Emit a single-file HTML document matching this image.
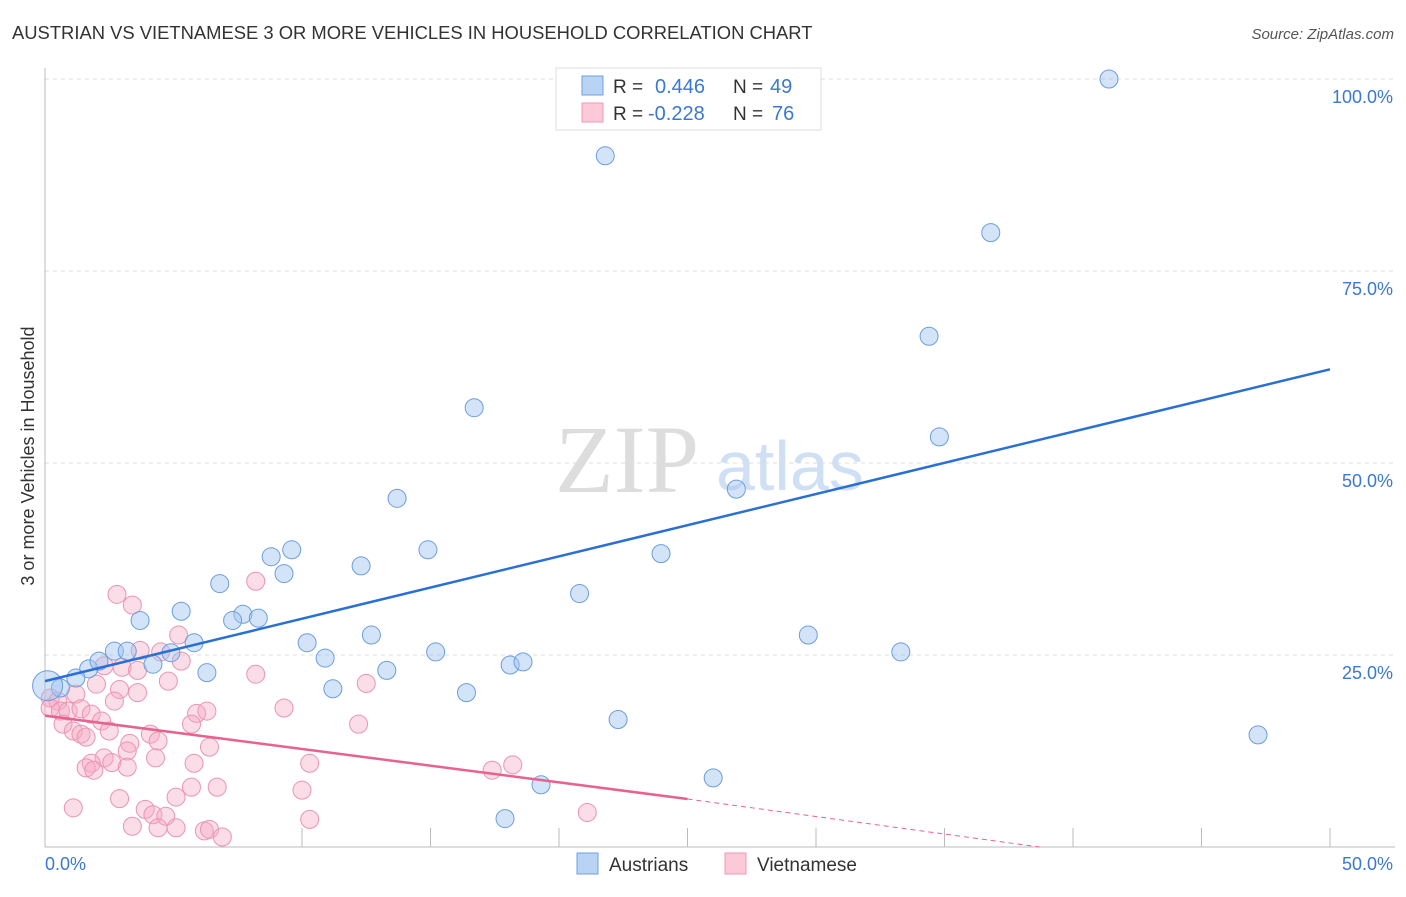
<!DOCTYPE html>
<html><head><meta charset="utf-8"><style>
body{margin:0;background:#fff;font-family:"Liberation Sans",sans-serif;}
</style></head><body>
<svg width="1406" height="892" xmlns="http://www.w3.org/2000/svg">
<text x="12" y="39" font-size="18.4" fill="#333">AUSTRIAN VS VIETNAMESE 3 OR MORE VEHICLES IN HOUSEHOLD CORRELATION CHART</text>
<text x="1394" y="39" font-size="15" fill="#555" font-style="italic" text-anchor="end">Source: ZipAtlas.com</text>
<text x="555" y="492" font-size="96" fill="#ddd" font-family="Liberation Serif,serif">ZIP</text>
<text x="716" y="490" font-size="70" fill="#cfe0f4">atlas</text>
<g id="grid"></g>
<line x1="45" y1="68" x2="45" y2="847" stroke="#bbb"/>
<line x1="45" y1="847" x2="1395" y2="847" stroke="#bbb"/>
<text x="34" y="456" font-size="18" fill="#333" transform="rotate(-90 34 456)" text-anchor="middle">3 or more Vehicles in Household</text>
<text x="45" y="870" font-size="18" fill="#3a78d4">0.0%</text>
<text x="1393" y="870" font-size="18" fill="#3a78d4" text-anchor="end">50.0%</text>
<g id="pts"></g>
<g id="lines"></g>
<g>
<rect x="556" y="68" width="265" height="62" fill="#fff" stroke="#ddd"/>
<rect x="582" y="76" width="21" height="19" fill="#b9d3f5" stroke="#6fa0e0"/>
<rect x="582" y="103" width="21" height="19" fill="#fcc9d8" stroke="#ee9ab5"/>
<text x="613" y="93" font-size="19" fill="#333">R = </text><text x="655" y="93" font-size="20" fill="#3a78d4">0.446</text>
<text x="733" y="93" font-size="19" fill="#333">N = </text><text x="770" y="93" font-size="20" fill="#3a78d4">49</text>
<text x="613" y="120" font-size="19" fill="#333">R = </text><text x="648" y="120" font-size="20" fill="#3a78d4">-0.228</text>
<text x="733" y="120" font-size="19" fill="#333">N = </text><text x="772" y="120" font-size="20" fill="#3a78d4">76</text>
</g>
<g><rect x="577" y="853" width="21" height="21" fill="#b9d3f5" stroke="#6fa0e0"/><text x="609" y="871" font-size="19" fill="#333">Austrians</text></g>
<g><rect x="725" y="853" width="21" height="21" fill="#fcc9d8" stroke="#ee9ab5"/><text x="757" y="871" font-size="19" fill="#333">Vietnamese</text></g>
</svg>
<script>
const yTicks=[100,75,50,25];
const yTickLabels=["100.0%","75.0%","50.0%","25.0%"];
const xTicks=[10,15,20,25,30,35,40,45,50];
const austX=[27.7,41.4,21.8,36.8,34.4,16.7,34.8,26.9,13.7,9.6,14.9,8.8,23.970,12.3,9.3,6.8,20.8,5.3,3.7,7.7,7.3,8.3,10.2,12.7,29.7,5.8,2.7,3.2,4.9,15.2,33.3,4.2,10.9,18.1,18.6,6.3,13.3,1.7,1.2,0.6,11.2,16.4,22.3,47.2,26.0,19.3,17.9,0.1,2.1];
const austY=[100,100,90,80,66.5,57.2,53.4,46.6,45.4,38.7,38.7,37.8,38.2,36.6,35.6,34.3,33.0,30.7,29.5,30.3,29.5,29.8,26.6,27.6,27.6,26.6,25.5,25.5,25.3,25.4,25.4,23.8,24.6,23.7,24.1,22.7,23.0,23.2,22.0,20.7,20.6,20.1,16.6,14.6,9.0,8.1,3.7,21.0,24.2];
const vietX=[2.8,3.4,8.2,5.2,3.7,4.5,5.3,2.3,3.0,3.6,2.0,4.8,8.2,2.9,3.6,1.2,2.7,0.2,0.5,0.2,0.6,0.9,1.4,1.8,2.2,2.5,0.7,1.1,1.4,1.6,5.9,6.3,5.7,9.3,4.1,4.4,3.3,3.2,6.4,4.3,2.3,2.6,1.8,1.6,1.9,3.2,5.8,10.3,10.0,6.7,5.7,5.1,2.9,1.1,3.9,4.2,4.7,3.4,4.4,5.1,6.2,6.4,6.9,10.3,12.2,12.5,17.4,18.2,21.1];
const vietY=[32.9,31.5,34.6,27.6,25.6,25.4,24.2,23.6,23.4,23.0,21.2,21.6,22.5,20.5,20.1,19.9,19.0,19.4,19.0,18.1,17.7,17.7,18.0,17.3,16.4,15.1,16.0,15.1,14.7,14.3,17.4,17.7,16.0,18.1,14.7,13.8,13.5,12.5,13.0,11.6,11.6,11.0,10.9,10.3,10.0,10.4,10.9,10.9,7.4,7.8,7.8,6.5,6.3,5.1,4.9,4.2,4.0,2.7,2.5,2.5,2.1,2.3,1.3,3.6,16.0,21.3,10.0,10.7,4.5];
const austLine=[21.6,62.2];
const vietLine=[17.1,6.25];
const vietLineEndX=[38.7];
const X=v=>45+v*25.7, Y=v=>847-v*7.68;
const NS="http://www.w3.org/2000/svg";
function mk(t,a,p){const e=document.createElementNS(NS,t);for(const k in a)e.setAttribute(k,a[k]);p.appendChild(e);return e;}
const grid=document.getElementById('grid');
yTicks.forEach((v,i)=>{
 const l=mk('line',{x1:45,x2:1395,y1:Y(v),y2:Y(v),stroke:'#ddd','stroke-dasharray':'4,4'},grid);
 
 
 const t=mk('text',{x:1393,y:Y(v)+24,'font-size':18,fill:'#3a78d4','text-anchor':'end'},grid);
 t.textContent=yTickLabels[i];
 
 
});
xTicks.forEach(v=>{
 const l=mk('line',{x1:X(v),x2:X(v),y1:828,y2:847,stroke:'#bbb'},grid);
 
 
});
const pts=document.getElementById('pts');
vietX.forEach((x,i)=>{
 const c=mk('circle',{cx:X(x),cy:Y(vietY[i]),r:9,fill:'rgba(246,170,195,0.4)',stroke:'#ec93b1','stroke-width':1},pts);
 
 
});
austX.forEach((x,i)=>{
 const c=mk('circle',{cx:X(x),cy:Y(austY[i]),r:i==47?15:9,fill:'rgba(160,196,240,0.45)',stroke:'#6b9de0','stroke-width':1},pts);
 
 
});
const lines=document.getElementById('lines');
let b=mk('line',{x1:X(0),y1:Y(austLine[0]),x2:X(50),y2:Y(austLine[1]),stroke:'#2a6fd6','stroke-width':2.5},lines);


let p=mk('line',{x1:X(0),y1:Y(vietLine[0]),x2:X(25),y2:Y(vietLine[1]),stroke:'#e8628f','stroke-width':2.5},lines);


let d=mk('line',{x1:X(25),y1:Y(vietLine[1]),x2:X(vietLineEndX[0]),y2:Y(0),stroke:'#e8628f','stroke-width':1,'stroke-dasharray':'5,4'},lines);


</script>
</body></html>
